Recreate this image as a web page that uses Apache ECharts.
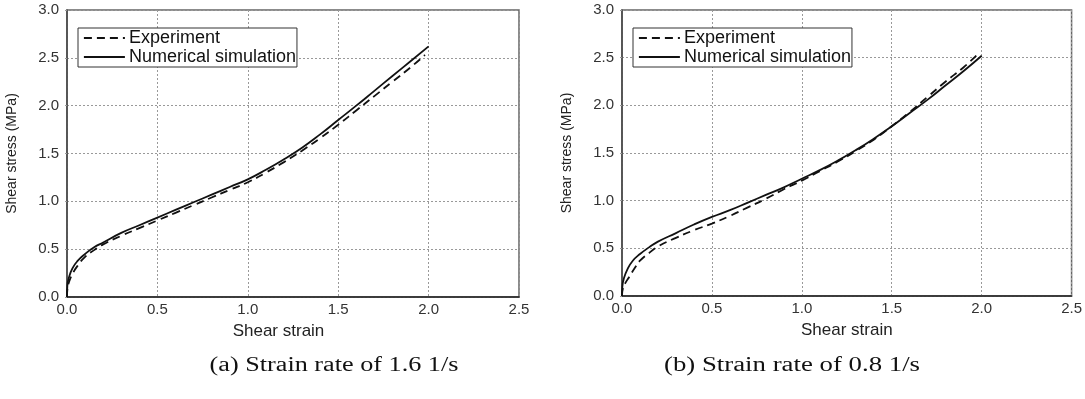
<!DOCTYPE html>
<html><head><meta charset="utf-8">
<script src="https://cdn.jsdelivr.net/npm/echarts@6/dist/echarts.min.js"></script>
<style>html,body{margin:0;padding:0;background:#fff}#c{width:1085px;height:399px}</style>
</head><body><div id="c"></div>
<script>
// ---- data ----
const xTicks = [0, 0.5, 1.0, 1.5, 2.0, 2.5];
const yTicks = [0, 0.5, 1.0, 1.5, 2.0, 2.5, 3.0];
const seriesNames = ['Experiment', 'Numerical simulation'];
const captions = ['(a) Strain rate of 1.6 1/s', '(b) Strain rate of 0.8 1/s'];
const xName = 'Shear strain';
const yName = 'Shear stress (MPa)';

// (a) 1.6 1/s
const aExpStrain = [0, 0.002, 0.01, 0.03, 0.06, 0.1, 0.15, 0.2, 0.3, 0.4, 0.5, 0.6, 0.7, 0.8, 0.9, 1.0, 1.1, 1.2, 1.3, 1.4, 1.5, 1.6, 1.7, 1.8, 1.9, 1.98];
const aExpStress = [0, 0.08, 0.15, 0.24, 0.33, 0.42, 0.49, 0.55, 0.64, 0.72, 0.80, 0.88, 0.96, 1.04, 1.12, 1.20, 1.30, 1.41, 1.53, 1.66, 1.80, 1.95, 2.10, 2.25, 2.40, 2.53];
const aNumStrain = [0, 0.002, 0.01, 0.03, 0.06, 0.1, 0.15, 0.2, 0.3, 0.4, 0.5, 0.6, 0.7, 0.8, 0.9, 1.0, 1.1, 1.2, 1.3, 1.4, 1.5, 1.6, 1.7, 1.8, 1.9, 2.0];
const aNumStress = [0, 0.12, 0.20, 0.30, 0.38, 0.45, 0.52, 0.57, 0.67, 0.75, 0.83, 0.91, 0.99, 1.07, 1.15, 1.23, 1.33, 1.44, 1.56, 1.70, 1.85, 2.00, 2.155, 2.31, 2.465, 2.62];

// (b) 0.8 1/s
const bExpStrain = [0, 0.005, 0.02, 0.04, 0.07, 0.1, 0.15, 0.2, 0.3, 0.4, 0.5, 0.6, 0.7, 0.8, 0.9, 1.0, 1.1, 1.2, 1.3, 1.4, 1.5, 1.6, 1.7, 1.8, 1.9, 1.98];
const bExpStress = [0, 0.08, 0.14, 0.20, 0.29, 0.37, 0.45, 0.52, 0.61, 0.69, 0.76, 0.84, 0.93, 1.02, 1.12, 1.21, 1.31, 1.41, 1.52, 1.64, 1.78, 1.93, 2.09, 2.25, 2.40, 2.54];
const bNumStrain = [0, 0.002, 0.01, 0.03, 0.06, 0.1, 0.15, 0.2, 0.3, 0.4, 0.5, 0.6, 0.7, 0.8, 0.9, 1.0, 1.1, 1.2, 1.3, 1.4, 1.5, 1.6, 1.7, 1.8, 1.9, 2.0];
const bNumStress = [0, 0.10, 0.18, 0.28, 0.37, 0.44, 0.51, 0.57, 0.66, 0.75, 0.83, 0.90, 0.98, 1.06, 1.14, 1.23, 1.32, 1.42, 1.53, 1.65, 1.78, 1.92, 2.06, 2.21, 2.36, 2.52];

// ---- chart ----
const zip = (xs, ys) => xs.map((x, i) => [x, ys[i]]);
const chart = echarts.init(document.getElementById('c'), null, {renderer: 'canvas'});
const sans = 'Liberation Sans, Arial, sans-serif';
const serifFont = '20px "Liberation Serif", "Times New Roman", serif';
const grids = [
  {left: 67, top: 10, width: 452, height: 287},
  {left: 622, top: 10, width: 454, height: 286}
];
function xAxis(i, namePad) {
  return {
    type: 'value', gridIndex: i, min: xTicks[0], max: xTicks[xTicks.length - 1], interval: 0.5,
    name: xName, nameLocation: 'middle', nameGap: 26,
    nameTextStyle: {fontFamily: sans, fontSize: 17, color: '#222', padding: namePad},
    axisLine: {show: true, onZero: false, lineStyle: {color: '#222', width: 1.5}},
    axisTick: {show: false},
    axisLabel: {fontFamily: sans, fontSize: 15, color: '#333', margin: 5, formatter: v => v.toFixed(1)},
    splitLine: {show: true, lineStyle: {color: '#999', width: 1, type: [2, 2]}}
  };
}
function yAxis(i) {
  return {
    type: 'value', gridIndex: i, min: yTicks[0], max: yTicks[yTicks.length - 1], interval: 0.5,
    name: yName, nameLocation: 'middle', nameGap: 48, nameRotate: 90,
    nameTextStyle: {fontFamily: sans, fontSize: 14, color: '#222'},
    axisLine: {show: true, onZero: false, lineStyle: {color: '#444', width: 1.5}},
    axisTick: {show: true, length: 4, lineStyle: {color: '#999', type: [2, 2]}},
    axisLabel: {fontFamily: sans, fontSize: 15, color: '#333', margin: 8, formatter: v => v.toFixed(1)},
    splitLine: {show: true, lineStyle: {color: '#999', width: 1, type: [2, 2]}}
  };
}
function line(name, i, data, dashed) {
  return {
    name: name, type: 'line', xAxisIndex: i, yAxisIndex: i, data: data,
    smooth: 0.5, symbol: 'none', showSymbol: false,
    lineStyle: {color: '#111', width: 1.8, type: dashed ? [8, 5] : 'solid'},
    itemStyle: {color: '#111'}, z: dashed ? 3 : 4
  };
}
function legend(left) {
  return {
    data: seriesNames, orient: 'vertical', left: left, top: 28,
    itemWidth: 41, itemHeight: 12, itemGap: 1,
    padding: [1, 1, 1, 5],
    borderColor: '#333', borderWidth: 1, borderRadius: 0, backgroundColor: '#fff',
    itemStyle: {opacity: 0},
    lineStyle: {width: 1.8},
    textStyle: {fontFamily: sans, fontSize: 18, color: '#111', lineHeight: 18, padding: [0, 0, 0, -1]},
    selectedMode: false
  };
}
const option = {
  backgroundColor: '#fff',
  animation: false,
  grid: grids.map(g => Object.assign({show: true, borderColor: '#666', borderWidth: 1.5, backgroundColor: 'transparent', containLabel: false}, g)),
  xAxis: [xAxis(0, [0, 29, 0, 0]), xAxis(1, 0)],
  yAxis: [yAxis(0), yAxis(1)],
  legend: [legend(78), legend(633)],
  series: [
    line(seriesNames[0], 0, zip(aExpStrain, aExpStress), true),
    line(seriesNames[1], 0, zip(aNumStrain, aNumStress), false),
    line(seriesNames[0], 1, zip(bExpStrain, bExpStress), true),
    line(seriesNames[1], 1, zip(bNumStrain, bNumStress), false)
  ],
  graphic: [
    {type: 'text', x: 334, y: 366, scaleX: 1.31, style: {text: captions[0], font: serifFont, fill: '#111', align: 'center', verticalAlign: 'middle'}},
    {type: 'text', x: 792, y: 366, scaleX: 1.34, style: {text: captions[1], font: serifFont, fill: '#111', align: 'center', verticalAlign: 'middle'}}
  ]
};
chart.setOption(option);
</script></body></html>
